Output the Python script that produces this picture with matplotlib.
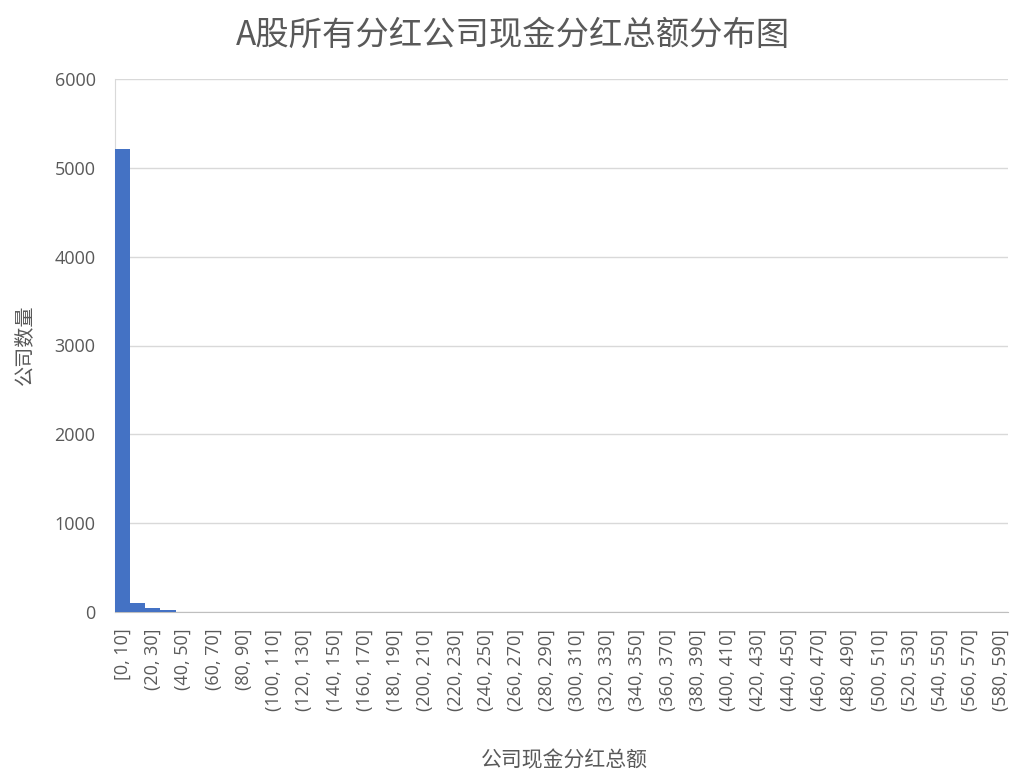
import numpy as np
import matplotlib.pyplot as plt

plt.rcParams['font.family'] = ['Open Sans', 'Noto Sans CJK SC', 'DejaVu Sans']

# bins of 10 (亿元), counts of companies
bin_edges = np.arange(0, 590, 10)
bin_labels = ['[0, 10]'] + ['(%d, %d]' % (a, a + 10) for a in bin_edges[1:]]
counts = [5208, 104, 41, 24, 5, 4, 3, 3, 2, 2,
          2, 1, 1, 1, 1, 1, 1, 1, 1, 1,
          1, 0, 1, 0, 1, 0, 0, 1, 0, 0,
          1, 0, 0, 0, 1, 0, 0, 0, 0, 1,
          0, 0, 0, 0, 0, 1, 0, 0, 0, 0,
          0, 0, 0, 1, 0, 0, 0, 0, 1]

title = 'A股所有分红公司现金分红总额分布图'
xlabel = '公司现金分红总额'
ylabel = '公司数量'

cjk = ['Noto Sans CJK SC', 'DejaVu Sans']
grey = '#595959'

fig = plt.figure(figsize=(10.24, 7.82), dpi=100)
ax = fig.add_axes([115/1024, 1 - 612/782, 893/1024, 533/782])

x = np.arange(len(counts))
ax.bar(x, counts, width=1.0, color='#4472C4', zorder=3)

ax.set_xlim(-0.5, len(counts) - 0.5)
ax.set_ylim(0, 6000)
ax.set_yticks(np.arange(0, 6001, 1000))
ax.set_xticks(x[::2])
ax.set_xticklabels(bin_labels[::2], rotation=90, fontsize=13, color=grey)
ax.tick_params(axis='y', labelsize=13, labelcolor=grey, length=0, pad=14)
ax.tick_params(axis='x', length=0, pad=12)

ax.grid(axis='y', color='#D9D9D9', lw=1, zorder=0)
for s in ['top', 'right']:
    ax.spines[s].set_visible(False)
ax.spines['left'].set_color('#D9D9D9')
ax.spines['bottom'].set_color('#BFBFBF')

fig.text(513/1024, 1 - 35/782, title, ha='center', va='center', fontsize=24, color=grey, family=cjk)
fig.text(564/1024, 1 - 760/782, xlabel, ha='center', va='center', fontsize=15, color=grey, family=cjk)
fig.text(25/1024, 1 - 345/782, ylabel, ha='center', va='center', rotation=90, fontsize=14.5, color=grey, family=cjk)

fig.savefig('out.png', dpi=100)
